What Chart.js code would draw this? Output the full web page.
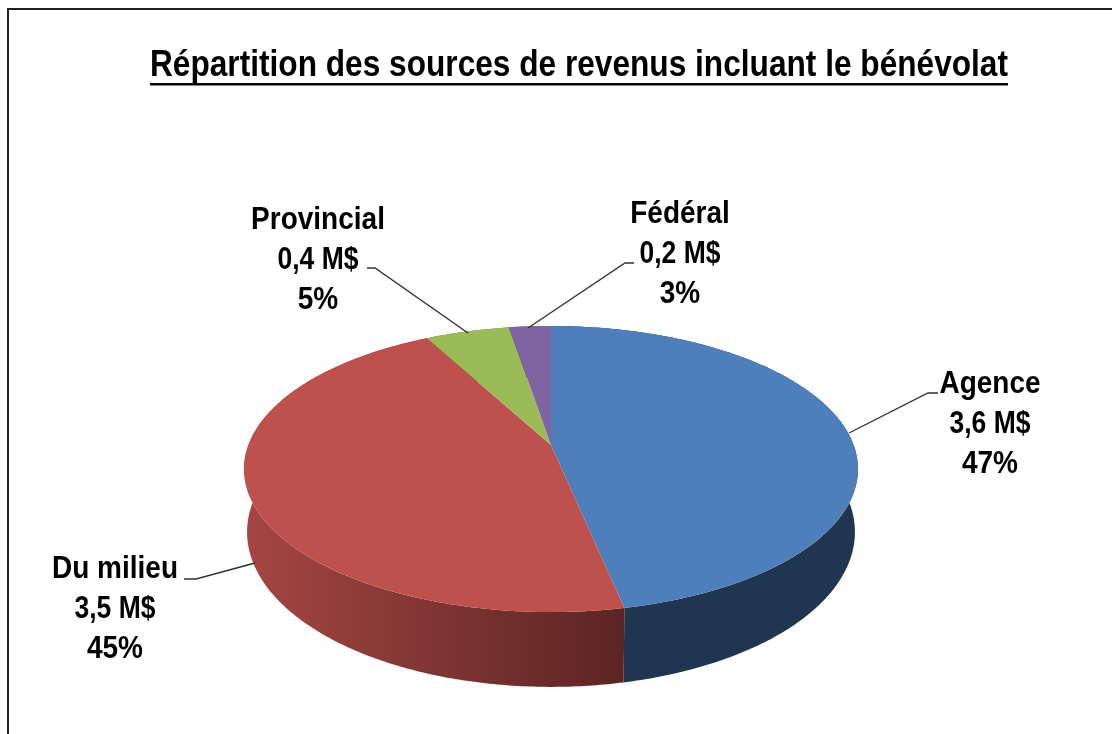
<!DOCTYPE html>
<html lang="fr">
<head>
<meta charset="utf-8">
<title>Répartition des sources de revenus</title>
<style>
  html, body { margin: 0; padding: 0; background: #fff; }
  #wrap { position: relative; width: 1112px; height: 734px; overflow: hidden; }
  #frame { position: absolute; left: 7px; top: 8px; right: -4px; bottom: -4px;
           border-left: 2px solid #222; border-top: 2px solid #222; pointer-events: none; }
</style>
</head>
<body>
<div id="wrap">
  <canvas id="pie" width="1112" height="734"></canvas>
  <div id="frame"></div>
</div>
<script src="https://cdn.jsdelivr.net/npm/chart.js@4"></script>
<script>
const titleText = "Répartition des sources de revenus incluant le bénévolat";
const categories = ["Agence", "Du milieu", "Provincial", "Fédéral"];
const amounts = [3.6, 3.5, 0.4, 0.2];
const amountLabels = ["3,6 M$", "3,5 M$", "0,4 M$", "0,2 M$"];
const percentLabels = ["47%", "45%", "5%", "3%"];

const topColors = ["#4f7fbb", "#be504d", "#9bbb59", "#8064a2"];

// label placement: centre x, first baseline
const labelAnchors = [[990, 393], [115, 578], [318, 229], [680, 223]];
// leader lines, one per category
const leaders = [
  [[938, 393], [928, 393], [849, 433]],
  [[184, 579], [196, 579], [255, 563]],
  [[367, 268], [375, 268], [468, 333]],
  [[634, 263], [625, 263], [528, 328]],
];

// perspective disc: top face and bottom rim
const cx = 551;
const skew = -0.168;
const topRim = { y: 445, rx: 302.6, ry: 139 };
const lowRim = { y: 506, rx: 299.6, ry: 150.5 };

function project(rim, angle) {
  const u = Math.cos(angle), v = Math.sin(angle);
  const w = 1 + skew * v;
  return [cx + rim.rx * u / w, rim.y + rim.ry * v / w];
}

function rimPoints(rim, start, end) {
  const steps = Math.max(4, Math.ceil((end - start) * 90));
  const pts = [];
  for (let i = 0; i <= steps; i++) {
    pts.push(project(rim, start + (end - start) * i / steps));
  }
  return pts;
}

function sideFill(ctx, i) {
  if (i === 1) {
    const g = ctx.createLinearGradient(246, 0, 622, 0);
    g.addColorStop(0, "#a54643");
    g.addColorStop(0.5, "#803532");
    g.addColorStop(1, "#5c2523");
    return g;
  }
  return ["#1f3550", "", "#5d7034", "#4c3b61"][i];
}

// text a little taller than wide, like the stretched original
function tallText(ctx, text, x, y, maxWidth) {
  ctx.save();
  ctx.translate(x, y);
  ctx.scale(1, 1.1);
  ctx.fillText(text, 0, 0, maxWidth);
  ctx.restore();
}

const perspectivePie = {
  id: "perspectivePie",
  // the arcs keep their angles from the pie controller, only the drawing is replaced
  beforeDatasetsDraw(chart) {
    const ctx = chart.ctx;
    const arcs = chart.getDatasetMeta(0).data;
    ctx.save();
    arcs.forEach((arc, i) => {
      const upper = rimPoints(topRim, arc.startAngle, arc.endAngle);
      const lower = rimPoints(lowRim, arc.startAngle, arc.endAngle).reverse();
      ctx.beginPath();
      upper.concat(lower).forEach((p, n) => (n ? ctx.lineTo(p[0], p[1]) : ctx.moveTo(p[0], p[1])));
      ctx.closePath();
      ctx.fillStyle = sideFill(ctx, i);
      ctx.fill();
    });
    arcs.forEach((arc, i) => {
      ctx.beginPath();
      ctx.moveTo(cx, topRim.y);
      rimPoints(topRim, arc.startAngle, arc.endAngle).forEach((p) => ctx.lineTo(p[0], p[1]));
      ctx.closePath();
      ctx.fillStyle = topColors[i];
      ctx.fill();
    });
    ctx.restore();
    return false;
  },
  afterDraw(chart) {
    const ctx = chart.ctx;
    ctx.save();
    // underline of the title
    const t = chart.titleBlock;
    ctx.fillStyle = "#000";
    ctx.fillRect(t.left, 83, t.right - t.left, 2.5);

    ctx.strokeStyle = "#333";
    ctx.lineWidth = 1.4;
    leaders.forEach((line) => {
      ctx.beginPath();
      line.forEach((p, n) => (n ? ctx.lineTo(p[0], p[1]) : ctx.moveTo(p[0], p[1])));
      ctx.stroke();
    });

    ctx.fillStyle = "#000";
    ctx.font = "bold 28px 'Liberation Sans', Arial, sans-serif";
    ctx.textAlign = "center";
    ctx.textBaseline = "alphabetic";
    categories.forEach((name, i) => {
      const [x, y] = labelAnchors[i];
      tallText(ctx, name, x, y);
      tallText(ctx, amountLabels[i], x, y + 40, 81);
      tallText(ctx, percentLabels[i], x, y + 80);
    });
    ctx.restore();
  },
};

new Chart(document.getElementById("pie"), {
  type: "pie",
  data: {
    labels: categories,
    datasets: [{ data: amounts, backgroundColor: topColors, borderWidth: 0 }],
  },
  options: {
    responsive: false,
    animation: false,
    layout: { padding: { left: 150, right: 104, top: 44, bottom: 50 } },
    plugins: {
      legend: { display: false },
      tooltip: { enabled: false },
      title: {
        display: true,
        fullSize: false,
        text: titleText,
        color: "#000",
        padding: 0,
        font: { family: "'Liberation Sans', Arial, sans-serif", size: 36, weight: "bold" },
      },
    },
  },
  plugins: [perspectivePie],
});
</script>
</body>
</html>
